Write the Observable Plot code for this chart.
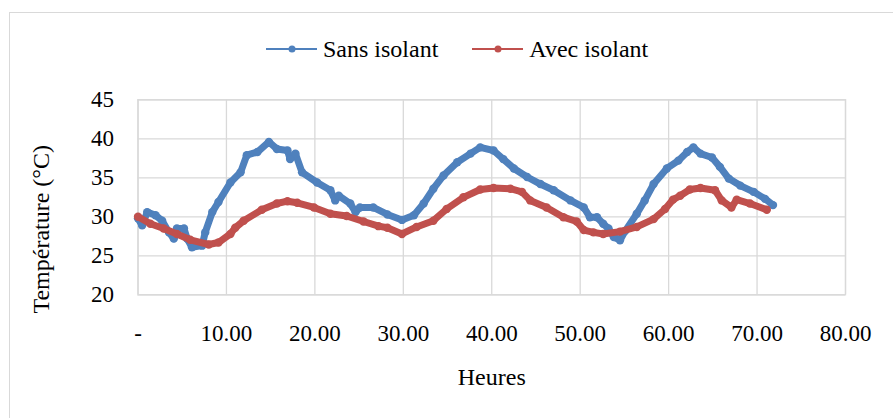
<!DOCTYPE html>
<html><head><meta charset="utf-8">
<script src="https://cdn.jsdelivr.net/npm/d3@7"></script>
<script src="https://cdn.jsdelivr.net/npm/@observablehq/plot@0.6"></script>
<style>
body{margin:0;background:#fff;width:893px;height:418px;overflow:hidden;position:relative;font-family:"Liberation Serif","Times New Roman",serif;}
#border{position:absolute;left:9px;top:12px;width:900px;height:420px;border:1.5px solid #d9d9d9;box-sizing:border-box;}
#legend{position:absolute;top:35px;left:266px;height:28px;display:flex;align-items:center;font-size:24px;color:#000;white-space:nowrap;}
.item{display:flex;align-items:center;}
.item span{margin-left:6px;}
#chart{position:absolute;left:0;top:75px;}
</style>
</head><body>
<div id="border"></div>
<div id="legend"></div>
<div id="chart"></div>
<script>
const seriesNames = ["Sans isolant", "Avec isolant"];
const seriesColors = ["#4f81bd", "#c0504d"];

const sansHours = [0,0.47,1.04,1.98,2.73,3.5,4.05,4.4,5.2,5.55,6.1,7.25,7.6,8.4,9.1,10.45,11.6,12.3,13.5,14.8,15.7,16.9,17.2,17.8,18.55,20.25,21.75,22.3,22.7,24.0,24.6,25.1,26.6,28.2,29.85,31.2,32.3,33.4,34.55,36.1,37.6,38.7,40.2,41.3,42.5,44.0,45.5,47.0,48.9,50.4,51.1,51.9,52.6,53.2,53.8,54.5,55.1,56.4,57.3,58.3,59.8,61.1,62.1,62.8,63.6,64.9,65.8,66.8,68.1,69.6,70.9,71.8];
const sansTemp  = [29.8,28.9,30.6,30.2,29.5,28.0,27.2,28.5,28.5,27.2,26.1,26.3,28.0,30.6,31.9,34.4,35.7,37.9,38.3,39.6,38.7,38.5,37.4,38.1,35.7,34.4,33.4,32.1,32.7,31.7,30.6,31.2,31.2,30.3,29.6,30.2,31.7,33.6,35.3,37.0,38.1,38.9,38.5,37.4,36.2,35.1,34.2,33.4,32.1,31.2,29.95,29.95,29.1,28.5,27.4,27.0,28.2,30.4,32.1,34.2,36.2,37.2,38.3,38.9,38.1,37.6,36.4,34.9,34.0,33.2,32.3,31.5];

const avecHours = [0,1.4,2.9,4.4,5.9,8.0,9.1,10.45,11.0,11.95,14.0,15.7,16.9,18.0,19.9,21.75,23.6,25.5,27.2,28.2,29.85,31.5,33.4,34.9,36.8,38.7,40.2,42.1,43.4,44.35,46.2,48.1,49.6,50.4,51.5,52.6,54.5,56.4,58.3,59.6,60.5,61.3,62.4,63.6,65.25,66.0,67.1,67.7,69.2,71.1];
const avecTemp  = [30.0,29.1,28.5,27.8,27.05,26.45,26.7,27.8,28.6,29.5,30.9,31.7,32.0,31.8,31.2,30.4,30.1,29.4,28.8,28.6,27.8,28.7,29.5,31.0,32.5,33.5,33.7,33.6,33.2,32.1,31.2,29.95,29.4,28.3,28.0,27.8,28.1,28.7,29.7,31.0,32.2,32.7,33.5,33.7,33.4,32.1,31.2,32.2,31.7,30.9];

const xTicks = [0,10,20,30,40,50,60,70,80];
const yTicks = [20,25,30,35,40,45];
const xLabel = "Heures";
const yLabel = "Température (°C)";

const sans = sansHours.map((h,i)=>({h, t:sansTemp[i]}));
const avec = avecHours.map((h,i)=>({h, t:avecTemp[i]}));

// legend
const legend = document.getElementById("legend");
seriesNames.forEach((name,i)=>{
  const item = document.createElement("div");
  item.className = "item";
  if (i === 0) item.style.marginRight = "34px";
  item.innerHTML = `<svg width="51" height="12"><line x1="0" y1="6" x2="51" y2="6" stroke="${seriesColors[i]}" stroke-width="2"/><circle cx="26" cy="6" r="3.5" fill="${seriesColors[i]}"/></svg><span>${name}</span>`;
  legend.appendChild(item);
});

const gridStyle = {stroke:"#d9d9d9", strokeOpacity:1, strokeWidth:1.3};
const lineStyle = (c)=>({x:"h", y:"t", stroke:c, strokeWidth:7, strokeLinejoin:"round", strokeLinecap:"round"});

const chart = Plot.plot({
  width: 893,
  height: 330,
  marginTop: 24.3,
  marginBottom: 110.7,
  marginLeft: 137.5,
  marginRight: 48,
  style: {fontFamily:"'Liberation Serif','Times New Roman',serif", fontSize:"23px", color:"#000", background:"transparent", overflow:"visible"},
  x: {domain:[0,80]},
  y: {domain:[20,45]},
  marks: [
    Plot.gridY(yTicks, gridStyle),
    Plot.gridX(xTicks, gridStyle),
    Plot.frame({stroke:"#d9d9d9", strokeWidth:1.3}),
    Plot.axisY(yTicks, {tickSize:0, tickPadding:24, fontSize:23, label:null}),
    Plot.axisX(xTicks, {tickSize:0, tickPadding:30, fontSize:23, label:null, tickFormat: d => d === 0 ? "-" : d.toFixed(2)}),
    Plot.text([yLabel], {frameAnchor:"left", textAnchor:"middle", lineAnchor:"middle", rotate:-90, dx:-97, dy:32, fontSize:24, fill:"#000"}),
    Plot.text([xLabel], {frameAnchor:"bottom", dy:90, fontSize:24, fill:"#000"}),
    Plot.line(sans, lineStyle(seriesColors[0])),
    Plot.dot(sans, {x:"h", y:"t", r:4.2, fill:seriesColors[0]}),
    Plot.line(avec, lineStyle(seriesColors[1])),
    Plot.dot(avec, {x:"h", y:"t", r:4.2, fill:seriesColors[1]})
  ]
});
document.getElementById("chart").appendChild(chart);
</script>
</body></html>
